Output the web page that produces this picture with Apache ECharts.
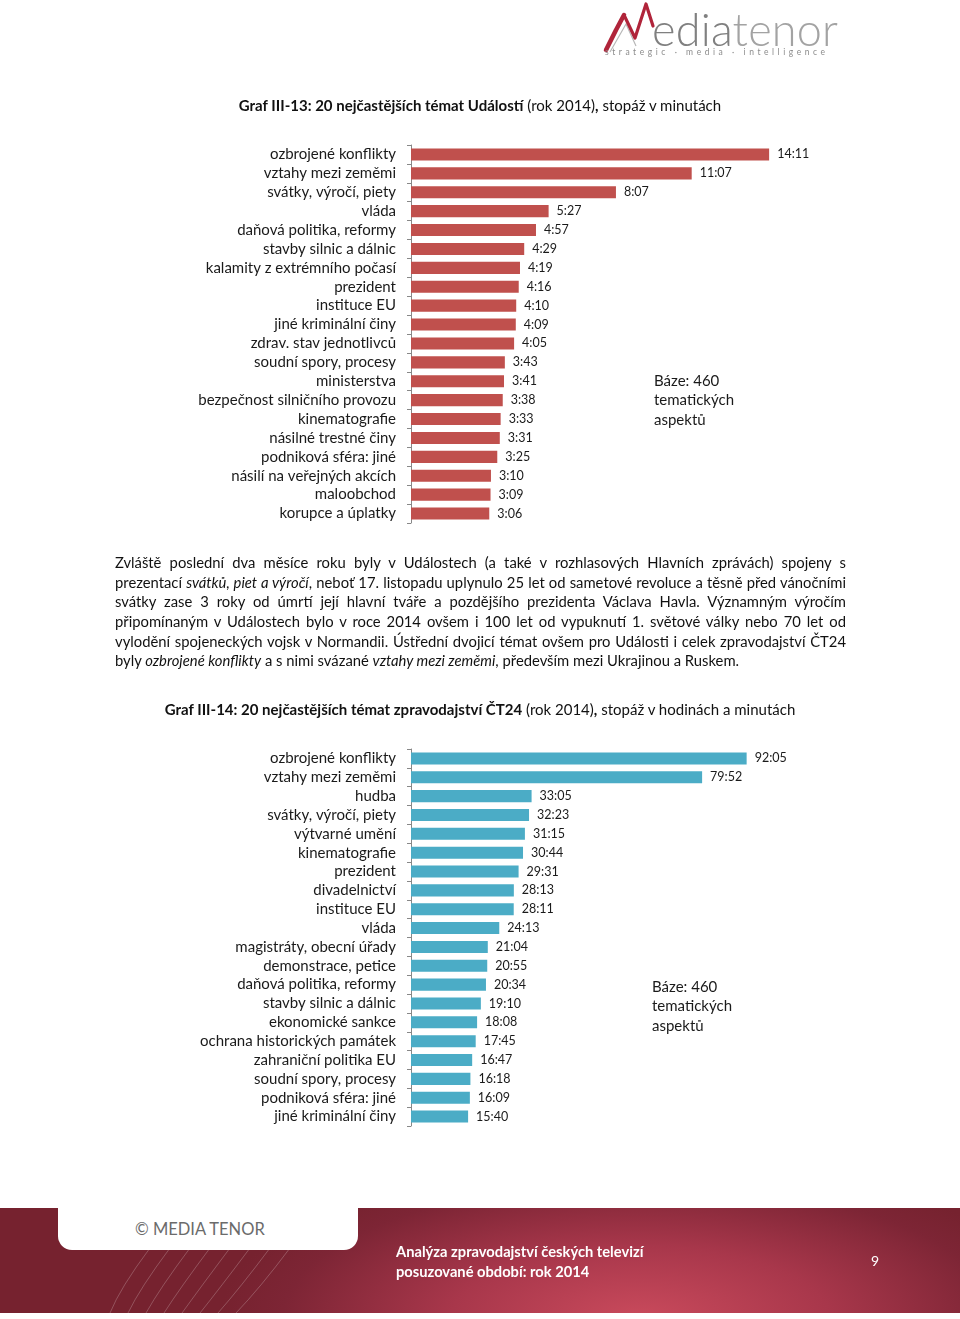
<!DOCTYPE html>
<html>
<head>
<meta charset="utf-8">
<script src="https://cdn.jsdelivr.net/npm/echarts@6/dist/echarts.min.js"></script>
<style>
  html, body { margin:0; padding:0; background:#fff; }
  body { width:960px; height:1319px; position:relative; overflow:hidden; font-family: Lato, "Noto Sans", sans-serif; color:#111; }
  #chart { position:absolute; left:0; top:0; width:960px; height:1319px; }
  .abs { position:absolute; }
  .title { font-size:15px; white-space:nowrap; left:0; width:960px; text-align:center; }
  .title b { font-weight:700; }
  .para { left:115px; width:731px; font-size:14.8px; }
  .para div { height:19.7px; line-height:19.7px; text-align:justify; text-align-last:justify; white-space:nowrap; }
  .para div.last { text-align-last:left; }
  #logo { left:600px; top:0px; width:250px; height:60px; }
  #footer { left:0; top:1208px; width:960px; height:105px;
    background: radial-gradient(ellipse 420px 160px at 640px 110px, #c94a5c 0%, #a8374b 45%, #7d2535 85%, #76222f 100%); }
  #tab { left:58px; top:1198px; width:300px; height:52px; background:#fff; border-radius:0 0 14px 14px; }
</style>
</head>
<body>
<div id="chart"></div>

<div id="footer" class="abs"></div>
<svg class="abs" style="left:0;top:1208px;" width="420" height="105">
  <g fill="none" stroke="rgba(255,255,255,0.22)" stroke-width="1">
    <path d="M150,40 Q120,80 110,105"/>
    <path d="M170,40 Q140,80 128,105"/>
    <path d="M190,40 Q160,80 146,105"/>
    <path d="M210,40 Q180,80 164,105"/>
    <path d="M230,40 Q200,80 182,105"/>
    <path d="M250,40 Q220,80 200,105"/>
    <path d="M270,40 Q240,80 218,105"/>
    <path d="M290,40 Q260,80 236,105"/>
  </g>
</svg>
<div id="tab" class="abs"></div>
<div class="abs" style="left:135px;top:1219px;font-size:16.5px;color:#6b6b6b;">© MEDIA TENOR</div>
<div class="abs" style="left:396px;top:1241px;font-size:14.7px;color:#fff;font-weight:700;line-height:20px;">Analýza zpravodajství českých televizí<br>posuzované období: rok 2014</div>
<div class="abs" style="left:871px;top:1252px;font-size:14px;color:#fff;">9</div>

<div id="logo" class="abs">
  <svg class="abs" style="left:0;top:0;" width="70" height="60">
    <polyline points="10,52 26,24 36,46" fill="none" stroke="#b8b8b8" stroke-width="1.2"/>
    <polyline points="6,50 16,30 24,15" fill="none" stroke="#b0243a" stroke-width="4.5" stroke-linejoin="round" stroke-linecap="round"/>
    <polyline points="24,15 35,38 46,4 53,26" fill="none" stroke="#b0243a" stroke-width="3.2" stroke-linejoin="round" stroke-linecap="round"/>
  </svg>
  <div class="abs" style="left:52px;top:6px;font-size:45px;color:#808080;font-weight:300;font-family:Lato, sans-serif;line-height:46px;letter-spacing:0.2px;white-space:nowrap;">edia<span style="color:#a3a3a3">tenor</span></div>
  <div class="abs" style="left:5px;top:47px;font-size:8.5px;color:#8c8c8c;letter-spacing:3.55px;white-space:nowrap;">strategic · media · intelligence</div>
</div>

<div class="abs title" style="top:96px;"><b>Graf III-13: 20 nejčastějších témat Událostí</b> (rok 2014)<b>,</b> stopáž v minutách</div>

<div class="abs para" style="top:553px;">
  <div>Zvláště poslední dva měsíce roku byly v Událostech (a také v rozhlasových Hlavních zprávách) spojeny s</div>
  <div>prezentací <i>svátků, piet a výročí</i>, neboť 17. listopadu uplynulo 25 let od sametové revoluce a těsně před vánočními</div>
  <div>svátky zase 3 roky od úmrtí její hlavní tváře a pozdějšího prezidenta Václava Havla. Významným výročím</div>
  <div>připomínaným v Událostech bylo v roce 2014 ovšem i 100 let od vypuknutí 1. světové války nebo 70 let od</div>
  <div>vylodění spojeneckých vojsk v Normandii. Ústřední dvojicí témat ovšem pro Události i celek zpravodajství ČT24</div>
  <div class="last">byly <i>ozbrojené konflikty</i> a s nimi svázané <i>vztahy mezi zeměmi</i>, především mezi Ukrajinou a Ruskem.</div>
</div>

<div class="abs title" style="top:700px;"><b>Graf III-14: 20 nejčastějších témat zpravodajství ČT24</b> (rok 2014)<b>,</b> stopáž v hodinách a minutách</div>

<script>
// Chart 1: Události, duration in m:ss
const topics1 = ["ozbrojené konflikty","vztahy mezi zeměmi","svátky, výročí, piety","vláda","daňová politika, reformy","stavby silnic a dálnic","kalamity z extrémního počasí","prezident","instituce EU","jiné kriminální činy","zdrav. stav jednotlivců","soudní spory, procesy","ministerstva","bezpečnost silničního provozu","kinematografie","násilné trestné činy","podniková sféra: jiné","násilí na veřejných akcích","maloobchod","korupce a úplatky"];
const durations1 = ["14:11","11:07","8:07","5:27","4:57","4:29","4:19","4:16","4:10","4:09","4:05","3:43","3:41","3:38","3:33","3:31","3:25","3:10","3:09","3:06"];

// Chart 2: ČT24, duration in h:mm
const topics2 = ["ozbrojené konflikty","vztahy mezi zeměmi","hudba","svátky, výročí, piety","výtvarné umění","kinematografie","prezident","divadelnictví","instituce EU","vláda","magistráty, obecní úřady","demonstrace, petice","daňová politika, reformy","stavby silnic a dálnic","ekonomické sankce","ochrana historických památek","zahraniční politika EU","soudní spory, procesy","podniková sféra: jiné","jiné kriminální činy"];
const durations2 = ["92:05","79:52","33:05","32:23","31:15","30:44","29:31","28:13","28:11","24:13","21:04","20:55","20:34","19:10","18:08","17:45","16:47","16:18","16:09","15:40"];

const baseText = "Báze: 460\ntematických\naspektů";

function toUnits(s) { const p = s.split(":"); return parseInt(p[0],10)*60 + parseInt(p[1],10); }
const vals1 = durations1.map(d=>({value: toUnits(d), label: d}));
const vals2 = durations2.map(d=>({value: toUnits(d), label: d}));

const chart = echarts.init(document.getElementById('chart'), null, {renderer:'canvas'});
const FONT = 'Lato, "Noto Sans", sans-serif';

function yAx(gi, cats) {
  return {
    type:'category', gridIndex:gi, data:cats, inverse:true,
    axisLine:{show:true, lineStyle:{color:'#888', width:1}},
    axisTick:{show:true, length:4, interval:0, lineStyle:{color:'#888'}},
    axisLabel:{color:'#1a1a1a', fontSize:15, fontFamily:FONT, margin:15, interval:0}
  };
}
function xAx(gi, max) {
  return { type:'value', gridIndex:gi, min:0, max:max, show:false, splitLine:{show:false} };
}
function ser(gi, data, color) {
  return {
    type:'bar', xAxisIndex:gi, yAxisIndex:gi, data:data, barCategoryGap:'36%',
    itemStyle:{color:color},
    label:{show:true, position:'right', distance:8, color:'#1a1a1a', fontSize:12.5, fontFamily:FONT,
      formatter: p => p.data.label},
    animation:false
  };
}

chart.setOption({
  animation:false,
  grid:[
    {left:411, top:145, width:505, height:378},
    {left:411, top:749, width:486, height:377}
  ],
  xAxis:[xAx(0,1200), xAx(1,8000)],
  yAxis:[yAx(0,topics1), yAx(1,topics2)],
  series:[ser(0,vals1,'#c0504d'), ser(1,vals2,'#4bacc6')],
  graphic:[
    {type:'text', left:654, top:371, style:{text:baseText, fontSize:15, fontFamily:FONT, fill:'#1a1a1a', lineHeight:19.5}},
    {type:'text', left:652, top:977, style:{text:baseText, fontSize:15, fontFamily:FONT, fill:'#1a1a1a', lineHeight:19.5}}
  ]
});
</script>
</body>
</html>
